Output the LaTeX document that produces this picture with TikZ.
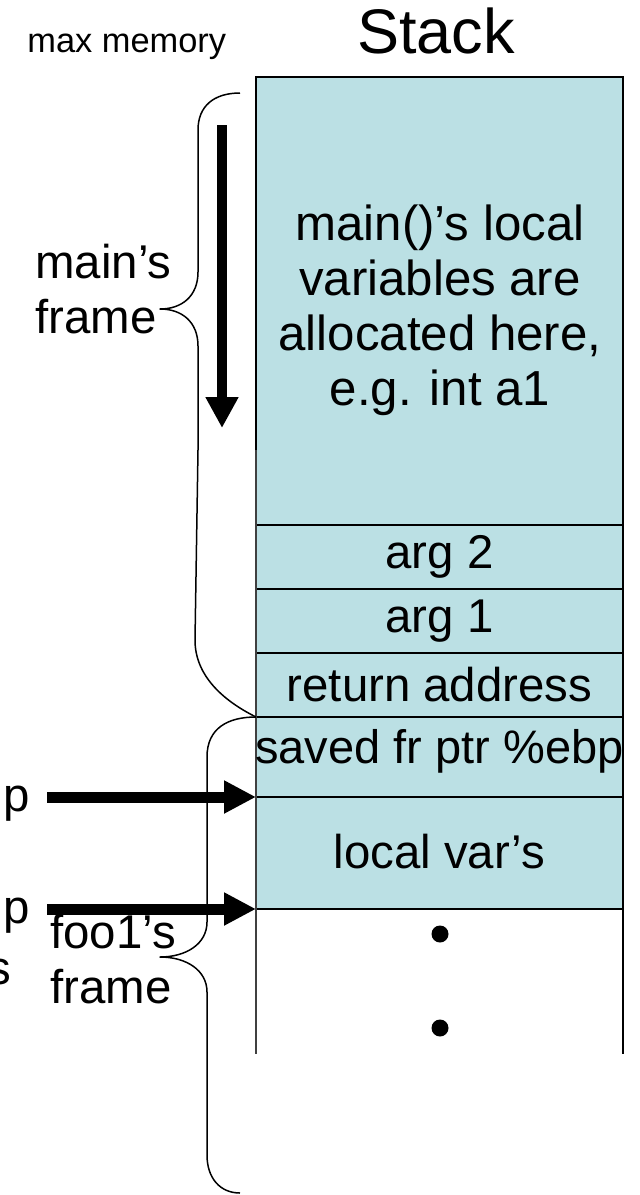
\documentclass[tikz,border=0pt]{standalone}
\usepackage{fontspec}
\setmainfont{Liberation Sans}
\usetikzlibrary{arrows.meta}
\definecolor{stackfill}{RGB}{187,224,228}
\begin{document}
\begin{tikzpicture}[x=0.5pt,y=-0.5pt,
  boxfont/.style={font=\fontsize{23.7}{27.5}\selectfont},
  celltext/.style={boxfont, align=center, inner sep=0pt},
  sidetext/.style={boxfont, inner sep=0pt, anchor=base west},
  edgetext/.style={boxfont, inner sep=0pt, anchor=base east},
  rule/.style={line width=1pt, black},
  outer/.style={line width=1.4pt, black},
  brace/.style={line width=0.75pt, black, line join=round},
  bigarrow/.style={line width=5.5pt, -{Triangle[length=16pt, width=15.5pt]}},
  downarrow/.style={line width=5pt, -{Triangle[length=15.5pt, width=15.5pt]}},
  dotmark/.style={circle, fill=black, inner sep=0pt, minimum size=8.5pt},
]
\useasboundingbox (0,0) rectangle (640,1195);
\fill[white] (0,0) rectangle (640,1195);
\begin{scope}
\clip (0,0) rectangle (640,1195);

% headings
\node[inner sep=0pt, anchor=base west, font=\fontsize{17.2}{20}\selectfont] (maxmem) at (27,52) {max memory};
\node[inner sep=0pt, anchor=base, font=\fontsize{31.5}{34}\selectfont] (title) at (436,53) {Stack};

% filled part of the stack
\fill[stackfill] (256,77) rectangle (623,909);

% cell boundaries
\coordinate (b0) at (256,525);
\coordinate (b1) at (256,589);
\coordinate (b2) at (256,653);
\coordinate (b3) at (256,717);
\coordinate (b4) at (256,797);
\coordinate (b5) at (256,909);
\foreach \yy in {525,589,653,717,797,909}
  \draw[rule] (256,\yy) -- (623,\yy);

% outline of the stack column
\draw[outer] (256,450) -- (256,77) -- (623,77) -- (623,525);
\draw[rule] (623,525) -- (623,1054);
\draw[line width=0.7pt, black!75] (256,450) -- (256,1054);

% cell contents
\node[celltext, font=\fontsize{24.6}{27.5}\selectfont] (maintext) at (440,310) {main()’s local\\variables are\\allocated here,\\e.g. int a1};
\node[celltext] (arg2) at (439.5,557) {arg 2};
\node[celltext] (arg1) at (439.5,621) {arg 1};
\node[celltext] (retaddr) at (439.5,685) {return address};
\node[celltext, font=\fontsize{23.5}{26}\selectfont] (savedfp) at (439.5,751) {saved fr ptr \%ebp};
\node[celltext] (locals) at (439.5,852) {local var’s};
\node[dotmark] (dot1) at (440,934) {};
\node[dotmark] (dot2) at (440,1028) {};

% growth direction
\coordinate (growtop) at (222,125);
\coordinate (growend) at (222,428);
\draw[downarrow] (growtop) -- (growend);

% frame braces
\draw[brace] (240,93) .. controls (214,93) and (198,106) .. (198,130)
  -- (198,272) .. controls (198,296) and (182,309) .. (160,309)
  .. controls (182,309) and (198,322) .. (198,346)
  -- (198,450) -- (195,640) .. controls (195,675) and (222,700) .. (b3);
\draw[brace] (b3) .. controls (228,717) and (207,728) .. (207,757)
  -- (207,922) .. controls (207,944) and (186,957) .. (160,957)
  .. controls (186,957) and (207,970) .. (207,992)
  -- (207,1155) .. controls (207,1178) and (220,1193) .. (240,1193);

\node[sidetext] (mainlbl1) at (35,278) {main’s};
\node[sidetext] (mainlbl2) at (35,333) {frame};
\node[sidetext] (foolbl1) at (50,948) {foo1’s};
\node[sidetext] (foolbl2) at (50,1003) {frame};

% register pointers
\coordinate (ebpstart) at (47,797);
\coordinate (espstart) at (47,909);
\draw[bigarrow] (ebpstart) -- (b4);
\draw[bigarrow] (espstart) -- (b5);
\node[edgetext] (ebplbl) at (30,811) {p};
\node[edgetext] (esplbl) at (30,923) {p};
\node[edgetext] (esplbl2) at (12,984) {s};
\end{scope}
\end{tikzpicture}
\end{document}
